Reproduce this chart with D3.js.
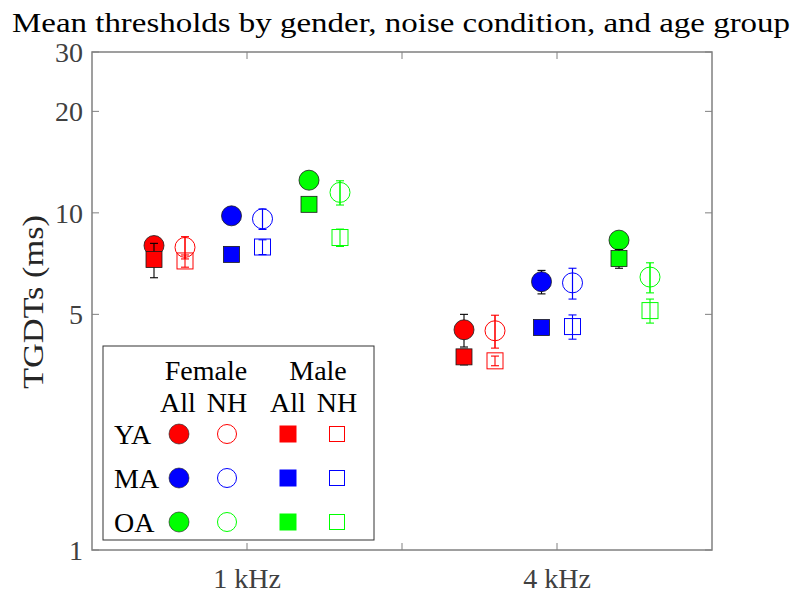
<!DOCTYPE html>
<html><head><meta charset="utf-8">
<script src="https://cdn.jsdelivr.net/npm/d3@7"></script>
<style>html,body{margin:0;padding:0;background:#fff;}svg{display:block;}</style>
</head><body>
<svg id="chart" width="800" height="602"></svg>
<script>
// ---- data ----
const freqLabels = ["1 kHz", "", "4 kHz"];
const freqTicks = [1, 2, 3];
const freqCenters = [1, 3];
const groups = ["YA", "MA", "OA"];
const groupColors = ["#ff0000", "#0000ff", "#00ff00"];
const yTicks = [1, 5, 10, 20, 30];
// values indexed [group][frequency]
const femaleAllMean = [[8.0, 4.5], [9.8, 6.25], [12.5, 8.3]];
const femaleAllErr  = [[0.3, 0.5], [0.3, 0.5], [0.5, 0.4]];
const femaleNHMean  = [[7.9, 4.47], [9.6, 6.2], [11.5, 6.45]];
const femaleNHErr   = [[0.6, 0.5], [0.67, 0.65], [0.95, 0.66]];
const maleAllMean   = [[7.27, 3.74], [7.53, 4.57], [10.6, 7.32]];
const maleAllErr    = [[0.85, 0.2], [0.3, 0.2], [0.3, 0.47]];
const maleNHMean    = [[7.2, 3.64], [7.92, 4.6], [8.45, 5.13]];
const maleNHErr     = [[0.3, 0.12], [0.4, 0.38], [0.5, 0.42]];
const groupOffsetAll = [-0.6, -0.1, 0.4];
const groupOffsetNH  = [-0.4, 0.1, 0.6];

// ---- layout ----
const svg = d3.select("#chart");
const L = 92, R = 712, T = 52, B = 550;
const x = d3.scaleLinear().domain([0, 4]).range([L, R]);
const y = d3.scaleLog().domain([1, 30]).range([B, T]);
const font = "'Liberation Serif','DejaVu Serif',serif";

// title
svg.append("text").attr("x", 12).attr("y", 32)
  .attr("font-family", font).attr("font-size", 28).attr("fill", "#000")
  .attr("textLength", 778).attr("lengthAdjust", "spacingAndGlyphs")
  .text("Mean thresholds by gender, noise condition, and age group");

// axes box
const axisColor = "#808080";
svg.append("rect").attr("x", L).attr("y", T).attr("width", R - L).attr("height", B - T)
  .attr("fill", "none").attr("stroke", axisColor).attr("stroke-width", 1.5);

// y ticks (left and right)
const tl = 7;
yTicks.forEach(v => {
  svg.append("line").attr("x1", L).attr("x2", L + tl).attr("y1", y(v)).attr("y2", y(v)).attr("stroke", axisColor).attr("stroke-width", 1);
  svg.append("line").attr("x1", R).attr("x2", R - tl).attr("y1", y(v)).attr("y2", y(v)).attr("stroke", axisColor).attr("stroke-width", 1);
  svg.append("text").attr("x", L - 9).attr("y", y(v)).attr("dy", "0.35em")
    .attr("text-anchor", "end").attr("font-family", font).attr("font-size", 28).attr("fill", "#404040")
    .text(v);
});
// x ticks (bottom and top)
freqTicks.forEach((t, i) => {
  svg.append("line").attr("x1", x(t)).attr("x2", x(t)).attr("y1", B).attr("y2", B - tl).attr("stroke", axisColor).attr("stroke-width", 1);
  svg.append("line").attr("x1", x(t)).attr("x2", x(t)).attr("y1", T).attr("y2", T + tl).attr("stroke", axisColor).attr("stroke-width", 1);
  svg.append("text").attr("x", x(t)).attr("y", 588).attr("text-anchor", "middle")
    .attr("font-family", font).attr("font-size", 28).attr("fill", "#404040")
    .text(freqLabels[i]);
});

// y label
svg.append("text").attr("transform", "translate(43,302) rotate(-90)")
  .attr("text-anchor", "middle").attr("font-family", font).attr("font-size", 30).attr("fill", "#262626")
  .attr("textLength", 174).attr("lengthAdjust", "spacingAndGlyphs")
  .text("TGDTs (ms)");

// ---- data marks ----
const plot = svg.append("g");
const capW = 4, rC = 10, sqF = 16, sqO = 16;

function series(means, errs, offsets, shape, filled) {
  groups.forEach((g, gi) => {
    freqCenters.forEach((fc, fi) => {
      const m = means[gi][fi], e = errs[gi][fi];
      const cx = x(fc + offsets[gi]);
      const col = groupColors[gi];
      const ec = filled ? "#000" : col;
      const y1 = y(m + e), y2 = y(m - e);
      const eb = plot.append("g").attr("stroke", ec).attr("stroke-width", 1.1);
      eb.append("line").attr("x1", cx).attr("x2", cx).attr("y1", y1).attr("y2", y2);
      eb.append("line").attr("x1", cx - capW).attr("x2", cx + capW).attr("y1", y1).attr("y2", y1);
      eb.append("line").attr("x1", cx - capW).attr("x2", cx + capW).attr("y1", y2).attr("y2", y2);
      if (shape === "circle") {
        const c = plot.append("circle").attr("cx", cx).attr("cy", y(m)).attr("r", rC);
        if (filled) c.attr("fill", col).attr("stroke", "#1a1a1a").attr("stroke-width", 0.8);
        else c.attr("fill", "none").attr("stroke", col).attr("stroke-width", 1);
        if (!filled) {
          plot.append("line").attr("x1", cx).attr("x2", cx).attr("y1", y1).attr("y2", y2).attr("stroke", col).attr("stroke-width", 1.1);
        }
      } else {
        const s = filled ? sqF : sqO;
        const r = plot.append("rect").attr("x", cx - s / 2).attr("y", y(m) - s / 2).attr("width", s).attr("height", s);
        if (filled) r.attr("fill", col).attr("stroke", "#1a1a1a").attr("stroke-width", 0.8);
        else r.attr("fill", "none").attr("stroke", col).attr("stroke-width", 1);
      }
    });
  });
}
series(femaleAllMean, femaleAllErr, groupOffsetAll, "circle", true);
series(femaleNHMean, femaleNHErr, groupOffsetNH, "circle", false);
series(maleAllMean, maleAllErr, groupOffsetAll, "square", true);
series(maleNHMean, maleNHErr, groupOffsetNH, "square", false);

// ---- legend ----
const lg = svg.append("g");
lg.append("rect").attr("x", 103).attr("y", 346).attr("width", 271).attr("height", 194)
  .attr("fill", "#fff").attr("stroke", "#333").attr("stroke-width", 1);
const lt = (tx, ty, s, anchor) => lg.append("text").attr("x", tx).attr("y", ty)
  .attr("text-anchor", anchor || "middle").attr("font-family", font).attr("font-size", 28).attr("fill", "#000").text(s);
lt(206, 380, "Female"); lt(318, 380, "Male");
lt(178, 412, "All"); lt(227, 412, "NH"); lt(288, 412, "All"); lt(337, 412, "NH");
const rowY = [434, 478, 522];
groups.forEach((g, gi) => {
  lt(114, rowY[gi] + 10, g, "start");
  const col = groupColors[gi];
  lg.append("circle").attr("cx", 179).attr("cy", rowY[gi]).attr("r", 10).attr("fill", col).attr("stroke", "#1a1a1a").attr("stroke-width", 0.6);
  lg.append("circle").attr("cx", 227).attr("cy", rowY[gi]).attr("r", 9.5).attr("fill", "none").attr("stroke", col).attr("stroke-width", 1);
  lg.append("rect").attr("x", 288 - 8.5).attr("y", rowY[gi] - 8.5).attr("width", 17).attr("height", 17).attr("fill", col);
  lg.append("rect").attr("x", 337 - 7.5).attr("y", rowY[gi] - 7.5).attr("width", 15).attr("height", 15).attr("fill", "none").attr("stroke", col).attr("stroke-width", 1);
});
</script>
</body></html>
